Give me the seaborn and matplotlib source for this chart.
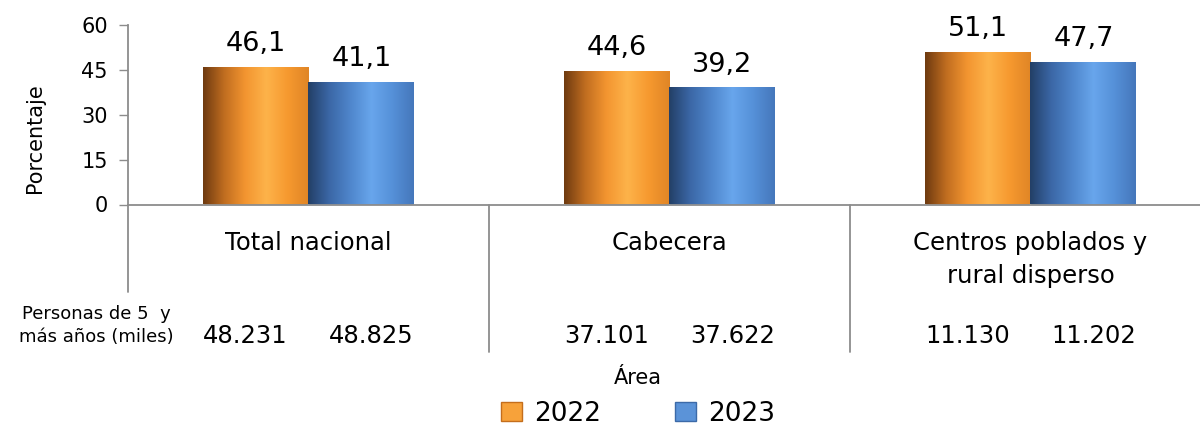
import numpy as np
import pandas as pd
import matplotlib
matplotlib.use('Agg')
import matplotlib.pyplot as plt
import seaborn as sns
from matplotlib.colors import LinearSegmentedColormap
from matplotlib.patches import Patch

# Chart data
areas = ['Total nacional', 'Cabecera', 'Centros poblados y\nrural disperso']
years = ['2022', '2023']
pct_2022 = [46.1, 44.6, 51.1]
pct_2023 = [41.1, 39.2, 47.7]
personas_2022 = ['48.231', '37.101', '11.130']
personas_2023 = ['48.825', '37.622', '11.202']

df = pd.DataFrame({
    'Área': areas * 2,
    'Año': [years[0]] * 3 + [years[1]] * 3,
    'Porcentaje': pct_2022 + pct_2023,
})

sns.set_style('white')
plt.rcParams['font.family'] = ['DejaVu Sans']
plt.rcParams['text.color'] = 'black'
plt.rcParams['ytick.color'] = 'black'

fig = plt.figure(figsize=(12, 4.26), dpi=100)
ax = fig.add_axes([128 / 1200, 1 - 204.5 / 426, 1083 / 1200, 179.5 / 426])

palette = {'2022': '#f39530', '2023': '#4f86cc'}
sns.barplot(data=df, x='Área', y='Porcentaje', hue='Año', palette=palette,
            width=0.587, gap=0, legend=False, ax=ax, saturation=1)

# gradient "cylinder" look
grad_cmaps = {
    '2022': LinearSegmentedColormap.from_list('o', ['#6e3a10', '#c06d20', '#f39530', '#fdb34a', '#f6992f', '#e08526']),
    '2023': LinearSegmentedColormap.from_list('b', ['#233f66', '#3b67a6', '#4f86cc', '#68a6ec', '#5590d8', '#4577bb']),
}
g = np.linspace(0, 1, 256).reshape(1, -1)
for cont, yr in zip(ax.containers, years):
    for bar in cont:
        x0, y0 = bar.get_x(), bar.get_y()
        w, h = bar.get_width(), bar.get_height()
        im = ax.imshow(g, cmap=grad_cmaps[yr], extent=[x0, x0 + w, y0, y0 + h],
                       aspect='auto', zorder=bar.get_zorder() + 0.1, interpolation='bicubic')
        im.set_clip_path(bar)

labels_pct = [pct_2022, pct_2023]
for cont, vals in zip(ax.containers, labels_pct):
    ax.bar_label(cont, labels=[f'{v:.1f}'.replace('.', ',') for v in vals],
                 padding=7, fontsize=19.5, color='black')

ax.set_xlim(-0.5, 2.5)
ax.set_ylim(0, 60)
ax.set_yticks([0, 15, 30, 45, 60])
ax.tick_params(axis='y', labelsize=15, length=6.5, width=1, color='#8c8c8c',
               labelcolor='black', pad=8, left=True)
ax.set_xticks([])
ax.set_xlabel('')
ax.set_ylabel('')
for s in ['top', 'right']:
    ax.spines[s].set_visible(False)
for s in ['left', 'bottom']:
    ax.spines[s].set_color('#8c8c8c')
    ax.spines[s].set_linewidth(1.3)

# extended lines below the axis (table frame)
ax.plot([-0.5, -0.5], [0, -0.487], transform=ax.get_xaxis_transform(),
        color='#8c8c8c', lw=1.3, clip_on=False)
for xs in [0.5, 1.5]:
    ax.plot([xs, xs], [0, -0.82], transform=ax.get_xaxis_transform(),
            color='#8c8c8c', lw=1.3, clip_on=False)

# category labels and person counts
tr = ax.get_xaxis_transform()
for i, name in enumerate(areas):
    ax.text(i, -0.15, name, transform=tr, ha='center', va='top',
            fontsize=17.5, linespacing=1.45)
    ax.text(i - 0.175, -0.77, personas_2022[i], transform=tr, ha='center',
            va='baseline', fontsize=17.5)
    ax.text(i + 0.175, -0.77, personas_2023[i], transform=tr, ha='center',
            va='baseline', fontsize=17.5)

fig.text(96 / 1200, 1 - 342 / 426, 'Personas de 5  y\nmás años (miles)',
         ha='center', va='baseline', fontsize=13, linespacing=1.35)
fig.text(35 / 1200, 1 - 138 / 426, 'Porcentaje', rotation=90,
         ha='center', va='center', fontsize=15)
fig.text(638 / 1200, 1 - 384 / 426, 'Área', ha='center', va='baseline', fontsize=15)

handles = [Patch(facecolor='#f7a23a', edgecolor='#c46e1c', lw=1),
           Patch(facecolor='#5b93d8', edgecolor='#3c6aa8', lw=1)]
fig.legend(handles, years, loc='center', bbox_to_anchor=(638 / 1200, 1 - 414 / 426),
           ncol=2, frameon=False, fontsize=19, handlelength=0.8, handleheight=0.75,
           handletextpad=0.45, columnspacing=2.8, borderpad=0)

fig.savefig('out.png', dpi=100)
